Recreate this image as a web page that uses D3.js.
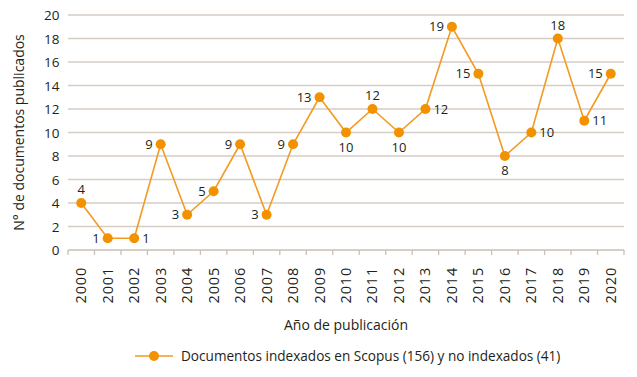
<!DOCTYPE html>
<html>
<head>
<meta charset="utf-8">
<script src="https://cdn.jsdelivr.net/npm/d3@7"></script>
<style>
  body { margin: 0; background: #fff; }
  text { font-family: "Open Sans", "Noto Sans", sans-serif; fill: #231f20; }
</style>
</head>
<body>
<div id="chart"></div>
<script>
// data
var years = ["2000","2001","2002","2003","2004","2005","2006","2007","2008","2009","2010",
             "2011","2012","2013","2014","2015","2016","2017","2018","2019","2020"];
var docs = [4, 1, 1, 9, 3, 5, 9, 3, 9, 13, 10, 12, 10, 12, 19, 15, 8, 10, 18, 11, 15];
// where each value label sits relative to its point
var labelSide = ["top","left","right","left","left","left","left","left","left","left","bottom",
                 "top","bottom","right","left","left","bottom","right","top","right","left"];
var yTicks = [0, 2, 4, 6, 8, 10, 12, 14, 16, 18, 20];
var seriesName = "Documentos indexados en Scopus (156) y no indexados (41)";

var width = 637, height = 377;
var plotLeft = 68, plotRight = 624, plotTop = 15, plotBottom = 250;
var color_line = "#f39a22";
var color_dot = "#f39200";
var color_grid = "#d6cdc4";
var color_axis = "#c9c0b7";
var fontsize = 13;

var svg = d3.select("#chart").append("svg")
  .attr("width", width)
  .attr("height", height);

var x = d3.scaleBand().domain(years).range([plotLeft, plotRight]);
var y = d3.scaleLinear().domain([0, 20]).range([plotBottom, plotTop]);

//gridlines
svg.append("g")
  .selectAll("line")
  .data(yTicks.filter(d => d > 0))
  .join("line")
  .attr("x1", plotLeft).attr("x2", plotRight)
  .attr("y1", d => y(d)).attr("y2", d => y(d))
  .style("stroke", color_grid)
  .style("stroke-width", 1.3);

//y labels
svg.append("g")
  .selectAll("text")
  .data(yTicks)
  .join("text")
  .attr("x", plotLeft - 8.5)
  .attr("y", d => y(d) + 5)
  .style("text-anchor", "end")
  .style("font-size", 13.5)
  .text(d => d);

//x axis line and ticks between categories
svg.append("line")
  .attr("x1", plotLeft).attr("x2", plotRight)
  .attr("y1", plotBottom).attr("y2", plotBottom)
  .style("stroke", color_axis)
  .style("stroke-width", 1.3);

var bounds = years.map(d => x(d)).concat([plotRight]);
svg.append("g")
  .selectAll("line")
  .data(bounds)
  .join("line")
  .attr("x1", d => d).attr("x2", d => d)
  .attr("y1", plotBottom).attr("y2", plotBottom + 5)
  .style("stroke", color_axis)
  .style("stroke-width", 1.3);

//x labels, rotated
svg.append("g")
  .selectAll("text")
  .data(years)
  .join("text")
  .attr("transform", d => "translate(" + (x(d) + x.bandwidth() / 2 + 5) + "," + (plotBottom + 17) + ") rotate(-90)")
  .style("text-anchor", "end")
  .style("font-size", 14.5)
  .style("letter-spacing", "0.8px")
  .text(d => d);

//line and dots
var cx = (d, i) => x(years[i]) + x.bandwidth() / 2;
var line = d3.line().x(cx).y(d => y(d));

svg.append("path")
  .datum(docs)
  .attr("d", line)
  .style("fill", "none")
  .style("stroke", color_line)
  .style("stroke-width", 1.6);

svg.append("g")
  .selectAll("circle")
  .data(docs)
  .join("circle")
  .attr("cx", cx)
  .attr("cy", d => y(d))
  .attr("r", 5)
  .style("fill", color_dot);

//value labels
var off = {
  top: [0, -9, "middle"],
  bottom: [0, 19, "middle"],
  left: [-8, 4.5, "end"],
  right: [8, 4.5, "start"]
};
svg.append("g")
  .selectAll("text")
  .data(docs)
  .join("text")
  .attr("x", (d, i) => cx(d, i) + off[labelSide[i]][0])
  .attr("y", d => y(d))
  .attr("dy", (d, i) => off[labelSide[i]][1])
  .style("text-anchor", (d, i) => off[labelSide[i]][2])
  .style("font-size", fontsize)
  .text(d => d);

//axis titles
svg.append("text")
  .attr("x", (plotLeft + plotRight) / 2)
  .attr("y", 330)
  .style("text-anchor", "middle")
  .style("font-size", 14)
  .text("Año de publicación");

svg.append("text")
  .attr("transform", "translate(24," + ((plotTop + plotBottom) / 2) + ") rotate(-90)")
  .style("text-anchor", "middle")
  .style("font-size", 14)
  .text("N° de documentos publicados");

//legend
var key = svg.append("g").attr("transform", "translate(135,356)");
key.append("line")
  .attr("x1", 0).attr("x2", 38)
  .attr("y1", 0).attr("y2", 0)
  .style("stroke", color_line)
  .style("stroke-width", 1.6);
key.append("circle")
  .attr("cx", 19).attr("cy", 0).attr("r", 5)
  .style("fill", color_dot);
key.append("text")
  .attr("x", 46).attr("y", 5)
  .style("font-size", 13.6)
  .text(seriesName);
</script>
</body>
</html>
